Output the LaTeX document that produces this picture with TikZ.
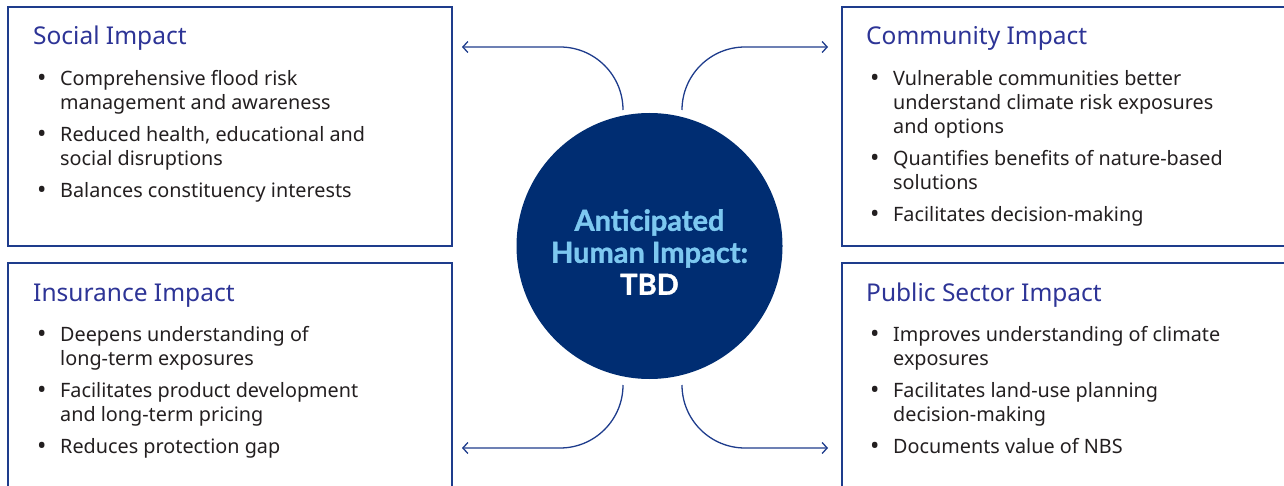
\documentclass[tikz,border=0pt]{standalone}
\usepackage{fontspec}
\setmainfont{Noto Sans}
\newfontfamily\hubfont{Lato}[BoldFeatures={FakeBold=1.3}]
\usepackage{xcolor}
\usetikzlibrary{calc, arrows.meta}
\definecolor{boxblue}{RGB}{30,60,140}
\definecolor{titleblue}{RGB}{45,52,150}
\definecolor{hubnavy}{RGB}{0,45,114}
\definecolor{hubsky}{RGB}{125,200,240}
\definecolor{bodygray}{RGB}{35,31,32}
\newcommand{\bul}{\makebox[23pt][l]{\raisebox{-1.5pt}{\fontsize{25}{24}\selectfont\textbullet}}}
\newcommand{\ind}{\hspace*{23pt}}

\begin{document}
\begin{tikzpicture}[x=1pt, y=-1pt,
    impbox/.style={draw=boxblue, line width=1.5pt, anchor=north west, inner sep=0pt, outer sep=0pt},
    imptitle/.style={anchor=base west, inner sep=0pt, text=titleblue, font=\fontsize{24.5}{28}\selectfont},
    implist/.style={anchor=north west, inner sep=0pt, align=left, text=bodygray, font=\fontsize{19.8}{24}\selectfont},
    flow/.style={draw=boxblue, line width=1.3pt, rounded corners=63pt, arrows={-Straight Barb[length=5pt, width=11pt]}}]
    \useasboundingbox (0,0) rectangle (1284,486);
    \clip (0,0) rectangle (1284,486);

    \node[impbox, minimum width=444pt, minimum height=239pt] (social) at (8,7) {};
    \node[impbox, minimum width=444pt, minimum height=260pt] (insurance) at (8,263) {};
    \node[impbox, minimum width=460pt, minimum height=239pt] (community) at (842,7) {};
    \node[impbox, minimum width=460pt, minimum height=260pt] (public) at (842,263) {};

    \node[circle, fill=hubnavy, minimum size=266pt, inner sep=0pt] (hub) at (649.5,246) {};
    \node[font=\hubfont\bfseries\fontsize{29}{32}\selectfont, text=hubsky, align=center] (hubText)
        at ($(hub.center)+(0,6)$) {Anticipated\\Human Impact:\\\textcolor{white}{TBD}};

    \node[imptitle] (socialTitle) at ($(social.north west)+(25,38)$) {Social Impact};
    \node[implist] (socialList) at ($(social.north west)+(29,63)$)
        {\bul Comprehensive flood risk\\\ind management and awareness\\[8pt]\bul Reduced health, educational and\\\ind social disruptions\\[8pt]\bul Balances constituency interests};
    \node[imptitle] (insuranceTitle) at ($(insurance.north west)+(25,38)$) {Insurance Impact};
    \node[implist] (insuranceList) at ($(insurance.north west)+(29,63)$)
        {\bul Deepens understanding of\\\ind long-term exposures\\[8pt]\bul Facilitates product development\\\ind and long-term pricing\\[8pt]\bul Reduces protection gap};
    \node[imptitle] (communityTitle) at ($(community.north west)+(24,38)$) {Community Impact};
    \node[implist] (communityList) at ($(community.north west)+(28,63)$)
        {\bul Vulnerable communities better\\\ind understand climate risk exposures\\\ind and options\\[8pt]\bul Quantifies benefits of nature-based\\\ind solutions\\[8pt]\bul Facilitates decision-making};
    \node[imptitle] (publicTitle) at ($(public.north west)+(24,38)$) {Public Sector Impact};
    \node[implist] (publicList) at ($(public.north west)+(28,63)$)
        {\bul Improves understanding of climate\\\ind exposures\\[8pt]\bul Facilitates land-use planning\\\ind decision-making\\[8pt]\bul Documents value of NBS};

    \coordinate (hubTL) at ($(hub.center)+(-26.5,-136)$);
    \coordinate (hubTR) at ($(hub.center)+(32.5,-136)$);
    \coordinate (hubBL) at ($(hub.center)+(-26.5,139)$);
    \coordinate (hubBR) at ($(hub.center)+(32.5,139)$);
    \coordinate (socialEnd) at ($(social.north east)+(10,40)$);
    \coordinate (communityEnd) at ($(community.north west)+(-14,40)$);
    \coordinate (insuranceEnd) at ($(insurance.north east)+(10,185)$);
    \coordinate (publicEnd) at ($(public.north west)+(-14,185)$);
    \draw[flow] (hubTL) |- (socialEnd);
    \draw[flow] (hubTR) |- (communityEnd);
    \draw[flow] (hubBL) |- (insuranceEnd);
    \draw[flow] (hubBR) |- (publicEnd);
\end{tikzpicture}
\end{document}
